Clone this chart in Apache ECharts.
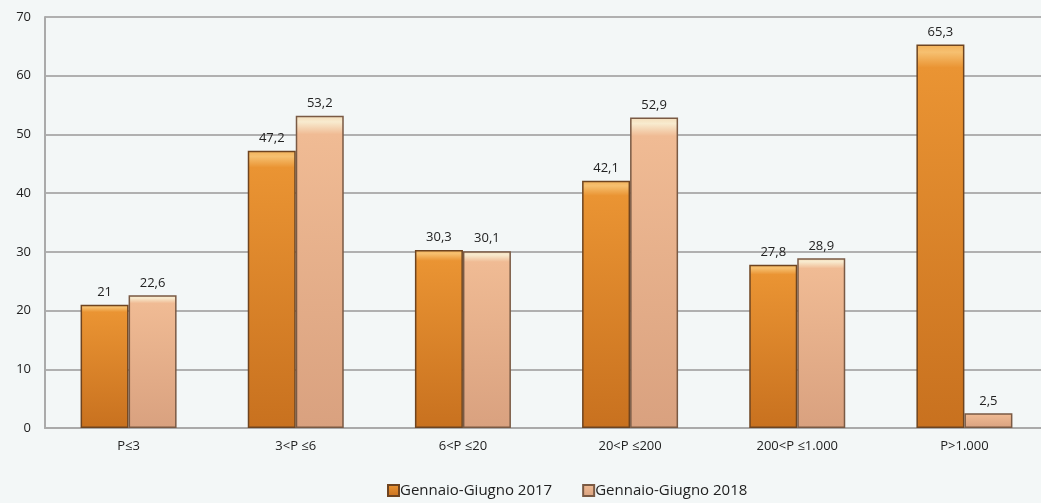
<!DOCTYPE html>
<html>
<head>
<meta charset="utf-8">
<script src="https://cdn.jsdelivr.net/npm/echarts@6/dist/echarts.min.js"></script>
<style>
  html, body { margin: 0; padding: 0; background: #f3f7f7; overflow: hidden; }
  #chart { width: 1050px; height: 503px; }
</style>
</head>
<body>
<div id="chart"></div>
<script>
  var categories = ['P≤3', '3<P ≤6', '6<P ≤20', '20<P ≤200', '200<P ≤1.000', 'P>1.000'];
  var values2017 = [21, 47.2, 30.3, 42.1, 27.8, 65.3];
  var values2018 = [22.6, 53.2, 30.1, 52.9, 28.9, 2.5];

  function grad(top, hi, mid, bottom) {
    return new echarts.graphic.LinearGradient(0, 0, 0, 1, [
      { offset: 0, color: top },
      { offset: 0.02, color: hi },
      { offset: 0.06, color: mid },
      { offset: 1, color: bottom }
    ]);
  }

  var labelFmt = function (p) {
    return String(p.value).replace('.', ',');
  };

  var chart = echarts.init(document.getElementById('chart'));
  chart.setOption({
    backgroundColor: '#f3f7f7',
    textStyle: { fontFamily: 'Open Sans', color: '#222' },
    legend: {
      bottom: 0,
      left: 382,
      itemWidth: 11,
      itemHeight: 11,
      itemGap: 30,
      icon: 'rect',
      textStyle: { fontSize: 15, color: '#222', padding: [0, 0, 0, -4] },
      data: ['Gennaio-Giugno 2017', 'Gennaio-Giugno 2018']
    },
    grid: {
      left: 45,
      right: 2,
      top: 17,
      bottom: 75
    },
    xAxis: {
      type: 'category',
      data: categories,
      axisLine: { lineStyle: { color: '#aaaaaa', width: 2 } },
      axisTick: { show: false },
      axisLabel: { fontSize: 13, color: '#222', margin: 12 }
    },
    yAxis: {
      type: 'value',
      min: 0,
      max: 70,
      interval: 10,
      axisLine: { show: true, lineStyle: { color: '#aaaaaa', width: 2 } },
      axisTick: { show: false },
      axisLabel: { fontSize: 13, color: '#222', margin: 14 },
      splitLine: { lineStyle: { color: '#b0b0b0', width: 2 } }
    },
    series: [
      {
        name: 'Gennaio-Giugno 2017',
        type: 'bar',
        data: values2017,
        barWidth: 48,
        barGap: '0%',
        itemStyle: {
          color: grad('#f3b25a', '#f6c070', '#ea9433', '#c8711f'),
          borderColor: '#6e4420',
          borderWidth: 1.5
        },
        label: {
          show: true,
          position: 'top',
          distance: 6,
          fontSize: 13,
          color: '#222',
          formatter: labelFmt
        },
        animation: false
      },
      {
        name: 'Gennaio-Giugno 2018',
        type: 'bar',
        data: values2018,
        barWidth: 48,
        barGap: '0%',
        itemStyle: {
          color: grad('#f4dcb8', '#f8ebcf', '#f0bb94', '#d9a17f'),
          borderColor: '#7a5a44',
          borderWidth: 1.5
        },
        label: {
          show: true,
          position: 'top',
          distance: 6,
          fontSize: 13,
          color: '#222',
          formatter: labelFmt
        },
        animation: false
      }
    ]
  });
</script>
</body>
</html>
